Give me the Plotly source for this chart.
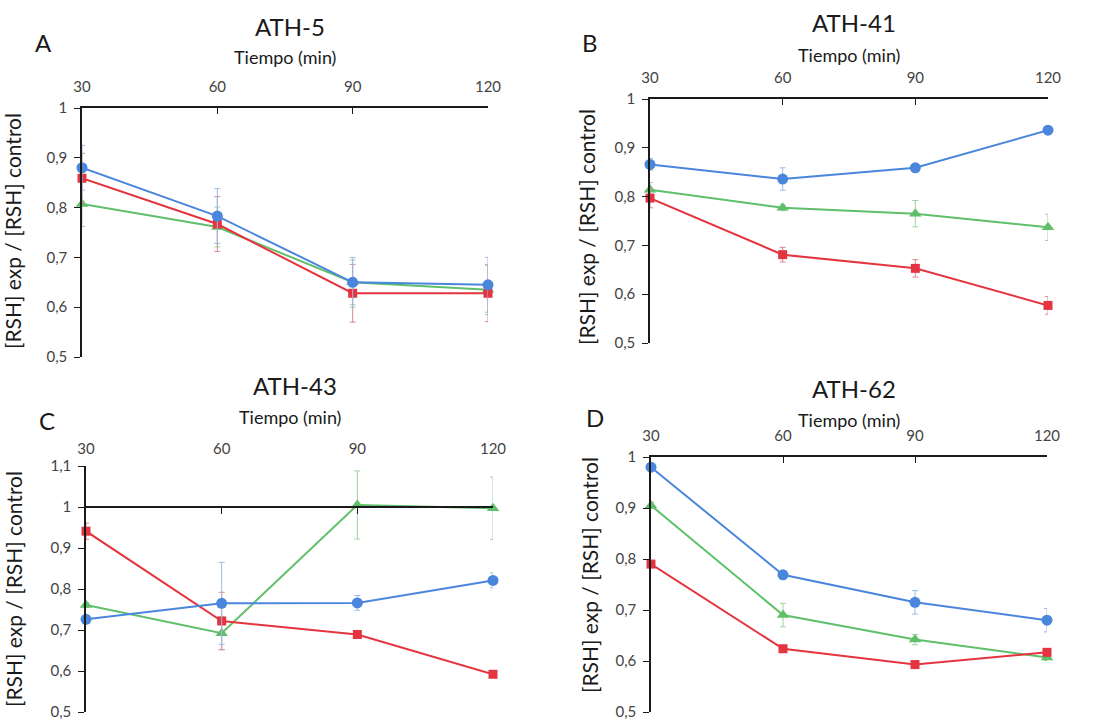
import plotly.graph_objects as go

# Time points (min)
tiempo = [30, 60, 90, 120]

# Series colours: blue circles, red squares, green triangles
colores = {"azul": "#4a86dc", "rojo": "#e4343f", "verde": "#5fbf6a"}
colores_err = {"azul": "#9dbbe6", "rojo": "#d88a90", "verde": "#9fd3a2"}

# ---- Panel A: ATH-5
a_azul = [0.880, 0.783, 0.650, 0.645]
a_rojo = [0.859, 0.767, 0.628, 0.628]
a_verde = [0.807, 0.761, 0.650, 0.635]
a_azul_err = [0.045, 0.055, 0.050, 0.055]
a_rojo_err = [0.050, 0.055, 0.058, 0.057]
a_verde_err = [0.045, 0.040, 0.045, 0.050]

# ---- Panel B: ATH-41
b_azul = [0.866, 0.836, 0.859, 0.936]
b_rojo = [0.797, 0.681, 0.653, 0.577]
b_verde = [0.814, 0.777, 0.765, 0.737]
b_azul_err = [0.012, 0.023, 0.006, 0.006]
b_rojo_err = [0.020, 0.015, 0.018, 0.018]
b_verde_err = [0.015, 0.006, 0.027, 0.027]

# ---- Panel C: ATH-43
c_azul = [0.726, 0.765, 0.766, 0.821]
c_rojo = [0.941, 0.722, 0.689, 0.592]
c_verde = [0.761, 0.692, 1.005, 0.997]
c_azul_err = [0.006, 0.100, 0.018, 0.018]
c_rojo_err = [0.020, 0.070, 0.008, 0.006]
c_verde_err = [0.006, 0.040, 0.083, 0.076]

# ---- Panel D: ATH-62
d_azul = [0.980, 0.769, 0.715, 0.680]
d_rojo = [0.790, 0.624, 0.593, 0.617]
d_verde = [0.905, 0.690, 0.642, 0.607]
d_azul_err = [0.006, 0.006, 0.023, 0.023]
d_rojo_err = [0.005, 0.005, 0.005, 0.005]
d_verde_err = [0.006, 0.023, 0.010, 0.006]

# Axis tick labels (comma decimal separator)
x_ticks = [30, 60, 90, 120]
x_ticktext = ["30", "60", "90", "120"]
y_ticks = [0.5, 0.6, 0.7, 0.8, 0.9, 1.0]
y_ticktext = ["0,5", "0,6", "0,7", "0,8", "0,9", "1"]
y_ticks_c = [0.5, 0.6, 0.7, 0.8, 0.9, 1.0, 1.1]
y_ticktext_c = ["0,5", "0,6", "0,7", "0,8", "0,9", "1", "1,1"]

titulos = ["ATH-5", "ATH-41", "ATH-43", "ATH-62"]
letras = ["A", "B", "C", "D"]
eje_x_titulo = "Tiempo (min)"
eje_y_titulo = "[RSH] exp / [RSH] control"

W, H = 1094, 722
FONT = "Lato, Carlito, Calibri, sans-serif"

# Plot areas in pixels: (x0, x1, y_top, y_bottom)
areas = [
    (82, 488, 108, 357),
    (650, 1048, 99, 343),
    (86, 493, 466, 712),
    (651, 1047, 457, 712),
]
y_rangos = [(0.5, 1.0), (0.5, 1.0), (0.5, 1.1), (0.5, 1.0)]

paneles = [
    (a_azul, a_rojo, a_verde, a_azul_err, a_rojo_err, a_verde_err),
    (b_azul, b_rojo, b_verde, b_azul_err, b_rojo_err, b_verde_err),
    (c_azul, c_rojo, c_verde, c_azul_err, c_rojo_err, c_verde_err),
    (d_azul, d_rojo, d_verde, d_azul_err, d_rojo_err, d_verde_err),
]

fig = go.Figure()
annotations = []


def px_x(v):
    return v / W


def px_y(v):
    return 1 - v / H


def etiqueta(texto, x, y, size, angle=0):
    return dict(text=texto, x=px_x(x), y=px_y(y), xref="paper", yref="paper",
                xanchor="center", yanchor="middle", showarrow=False,
                textangle=angle, font=dict(family=FONT, size=size, color="#1a1a1a"))


for i, (datos, area, yr) in enumerate(zip(paneles, areas, y_rangos)):
    n = i + 1
    xa = "x" if n == 1 else f"x{n}"
    ya = "y" if n == 1 else f"y{n}"
    azul, rojo, verde, e_azul, e_rojo, e_verde = datos
    series = [
        ("verde", verde, e_verde, "triangle-up", 11),
        ("rojo", rojo, e_rojo, "square", 9),
        ("azul", azul, e_azul, "circle", 11),
    ]
    for nombre, vals, errs, simbolo, tam in series:
        fig.add_trace(go.Scatter(
            x=tiempo, y=vals, xaxis=xa, yaxis=ya, mode="lines+markers",
            line=dict(color=colores[nombre], width=2),
            marker=dict(symbol=simbolo, size=tam, color=colores[nombre]),
            error_y=dict(type="data", array=errs, visible=True,
                         color=colores_err[nombre], thickness=1, width=3),
            cliponaxis=False, showlegend=False,
        ))

    x0, x1, yt, yb = area
    xkey = "xaxis" if n == 1 else f"xaxis{n}"
    ykey = "yaxis" if n == 1 else f"yaxis{n}"
    es_c = (n == 3)
    fig.layout[xkey] = dict(
        domain=[px_x(x0), px_x(x1)], range=[30, 120], anchor=ya, side="top",
        tickvals=x_ticks, ticktext=x_ticktext,
        showline=not es_c, linecolor="#1a1a1a", linewidth=1.5,
        ticks="" if es_c else "inside", ticklen=6, tickcolor="#1a1a1a",
        ticklabelstandoff=8, ticklabeloverflow="allow",
        showgrid=False, zeroline=False,
        tickfont=dict(family=FONT, size=15, color="#444444"),
    )
    fig.layout[ykey] = dict(
        domain=[px_y(yb), px_y(yt)], range=list(yr), anchor=xa,
        tickvals=y_ticks_c if es_c else y_ticks,
        ticktext=y_ticktext_c if es_c else y_ticktext,
        showline=True, linecolor="#1a1a1a", linewidth=1.5,
        ticks="outside", ticklen=6, tickcolor="#1a1a1a",
        ticklabelstandoff=4, ticklabeloverflow="allow",
        showgrid=False, zeroline=False,
        tickfont=dict(family=FONT, size=15, color="#444444"),
    )

    # Panel C: horizontal time axis crosses at y = 1
    if es_c:
        frac = (1.0 - yr[0]) / (yr[1] - yr[0])
        pos = px_y(yb) + frac * (px_y(yt) - px_y(yb))
        fig.layout["xaxis5"] = dict(
            domain=[px_x(x0), px_x(x1)], range=[30, 120], overlaying=xa,
            anchor="free", position=pos, side="top",
            tickvals=x_ticks, showticklabels=False,
            showline=True, linecolor="#1a1a1a", linewidth=1.5,
            ticks="inside", ticklen=6, tickcolor="#1a1a1a",
            showgrid=False, zeroline=False,
        )

    xc = (x0 + x1) / 2
    # Panel title, time-axis title, panel letter, value-axis title
    annotations.append(etiqueta(titulos[i], xc + 5, [27, 22, 385, 388][i], 24))
    annotations.append(etiqueta(eje_x_titulo, xc, [57, 55, 417, 420][i], 18))
    annotations.append(etiqueta(letras[i], [43, 590, 47, 595][i],
                                [43, 43, 420, 417][i], 24))
    annotations.append(etiqueta(eje_y_titulo, [13, 586, 13, 589][i],
                                [231, 227, 589, 575][i], 21, angle=-90))

# Invisible trace so the overlaying axis is drawn
fig.add_trace(go.Scatter(x=[30], y=[1.0], xaxis="x5", yaxis="y3", mode="markers",
                         marker=dict(opacity=0), showlegend=False, hoverinfo="skip"))

fig.update_layout(
    width=W, height=H, margin=dict(l=0, r=0, t=0, b=0, autoexpand=False),
    paper_bgcolor="white", plot_bgcolor="white",
    separators=", ", annotations=annotations, showlegend=False,
)

fig.write_html("out.html")
